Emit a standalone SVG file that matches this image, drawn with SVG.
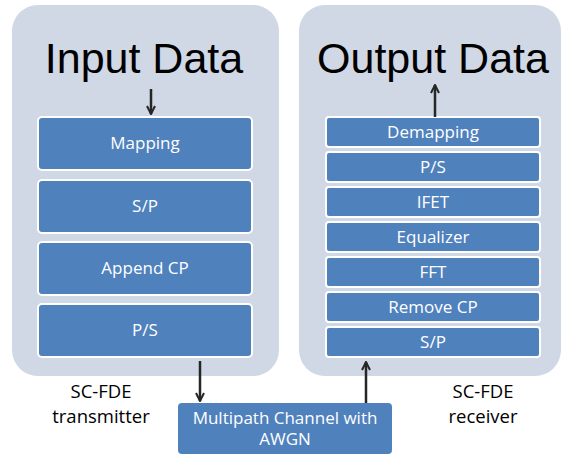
<svg xmlns="http://www.w3.org/2000/svg" width="562" height="455" viewBox="0 0 562 455">
<style>
.cont{fill:#D0D7E5}
.box{fill:#4F81BD;stroke:#FFFFFF;stroke-width:2}
.bt{fill:#FFFFFF;font-family:"Open Sans","Liberation Sans",sans-serif;font-size:17px;text-anchor:middle}
.title{fill:#000000;font-family:"Liberation Sans",sans-serif;font-size:43px;text-anchor:middle}
.lbl{fill:#000000;font-family:"Open Sans","Liberation Sans",sans-serif;font-size:18.5px;text-anchor:middle}
.conn{stroke:#262626;stroke-width:2.5;fill:none;marker-end:url(#ah)}
</style>
<defs>
<marker id="ah" viewBox="0 0 10 10" refX="9" refY="5" markerWidth="4" markerHeight="4" orient="auto" markerUnits="strokeWidth">
<path d="M1,1 L9,5 L1,9" fill="none" stroke="#262626" stroke-width="2"/>
</marker>
</defs>
<rect width="562" height="455" fill="#FFFFFF"/>
<g id="transmitter">
<rect class="cont" x="12" y="5" width="267" height="371" rx="26"/>
<text class="title" x="144" y="73">Input Data</text>
</g>
<g id="receiver">
<rect class="cont" x="299" y="5" width="262" height="371" rx="26"/>
<text class="title" x="433" y="73">Output Data</text>
</g>
<g id="tx-mapping"><rect class="box" x="38" y="117" width="214" height="53" rx="4"/><text class="bt" x="145" y="149">Mapping</text></g>
<g id="tx-sp"><rect class="box" x="38" y="180" width="214" height="53" rx="4"/><text class="bt" x="145" y="212">S/P</text></g>
<g id="tx-appendcp"><rect class="box" x="38" y="242" width="214" height="53" rx="4"/><text class="bt" x="145" y="274">Append CP</text></g>
<g id="tx-ps"><rect class="box" x="38" y="304" width="214" height="53" rx="4"/><text class="bt" x="145" y="336">P/S</text></g>
<g id="rx-demapping"><rect class="box" x="326" y="117" width="214" height="30" rx="3"/><text class="bt" x="433" y="138">Demapping</text></g>
<g id="rx-ps"><rect class="box" x="326" y="152" width="214" height="30" rx="3"/><text class="bt" x="433" y="173">P/S</text></g>
<g id="rx-ifet"><rect class="box" x="326" y="187" width="214" height="30" rx="3"/><text class="bt" x="433" y="208">IFET</text></g>
<g id="rx-equalizer"><rect class="box" x="326" y="222" width="214" height="30" rx="3"/><text class="bt" x="433" y="243">Equalizer</text></g>
<g id="rx-fft"><rect class="box" x="326" y="257" width="214" height="30" rx="3"/><text class="bt" x="433" y="278">FFT</text></g>
<g id="rx-removecp"><rect class="box" x="326" y="292" width="214" height="30" rx="3"/><text class="bt" x="433" y="313">Remove CP</text></g>
<g id="rx-sp"><rect class="box" x="326" y="327" width="214" height="30" rx="3"/><text class="bt" x="433" y="348">S/P</text></g>
<g id="channel">
<rect x="178" y="403" width="214" height="51" rx="4" fill="#4F81BD"/>
<text class="bt" x="285" y="424">Multipath Channel with</text>
<text class="bt" x="285" y="445">AWGN</text>
</g>
<g id="label-tx"><text class="lbl" x="101" y="398">SC-FDE</text><text class="lbl" x="101" y="423">transmitter</text></g>
<g id="label-rx"><text class="lbl" x="483" y="398">SC-FDE</text><text class="lbl" x="483" y="423">receiver</text></g>
<g id="connectors">
<line class="conn" x1="151" y1="89" x2="151" y2="114"/>
<line class="conn" x1="435" y1="117" x2="435" y2="85"/>
<line class="conn" x1="200" y1="361" x2="200" y2="401"/>
<line class="conn" x1="366" y1="403" x2="366" y2="362"/>
</g>
</svg>
